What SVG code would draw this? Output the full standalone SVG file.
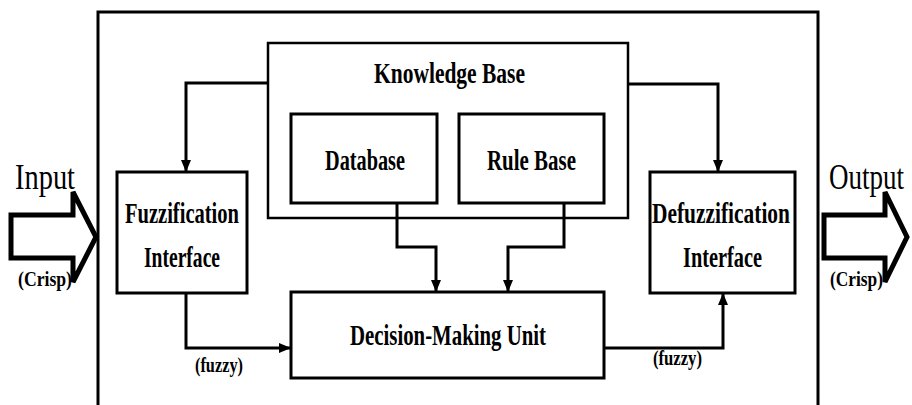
<svg xmlns="http://www.w3.org/2000/svg" width="912" height="405" viewBox="0 0 912 405">
  <style>
    .box { fill: #fff; stroke: #000; stroke-width: 3; }
    .thin { fill: #fff; stroke: #000; stroke-width: 2.5; }
    .wire { fill: none; stroke: #000; stroke-width: 3; }
    .big { fill: #fff; stroke: #000; stroke-width: 5; stroke-linejoin: miter; }
    text { font-family: "Liberation Serif", "Times New Roman", serif; fill: #000; font-weight: bold; }
    .lbl { font-size: 29px; }
    .io { font-size: 36px; font-weight: normal; }
    .sm { font-size: 21px; }
  </style>
  <defs>
    <marker id="arr" viewBox="0 0 12 12" refX="11" refY="6" markerWidth="12" markerHeight="12" markerUnits="userSpaceOnUse" orient="auto">
      <path d="M0,1 L12,6 L0,11 Z" fill="#000"/>
    </marker>
  </defs>

  <rect width="912" height="405" fill="#fff"/>

  <!-- system boundary -->
  <g id="system">
    <rect x="98" y="12" width="720" height="420" fill="none" stroke="#000" stroke-width="3"/>
  </g>

  <!-- crisp input -->
  <g id="input">
    <path class="big" d="M11,215 L73,215 L73,192 L96,237 L73,282 L73,258 L11,258 Z"/>
    <text class="io" x="15" y="189" textLength="60" lengthAdjust="spacingAndGlyphs">Input</text>
    <text class="sm" x="18" y="286" textLength="54" lengthAdjust="spacingAndGlyphs">(Crisp)</text>
  </g>

  <!-- crisp output -->
  <g id="output">
    <path class="big" d="M824,215 L885,215 L885,192 L907,237 L885,282 L885,258 L824,258 Z"/>
    <text class="io" x="904" y="189" text-anchor="end" textLength="75" lengthAdjust="spacingAndGlyphs">Output</text>
    <text class="sm" x="830" y="286" textLength="53" lengthAdjust="spacingAndGlyphs">(Crisp)</text>
  </g>

  <g id="knowledge-base">
    <rect class="thin" x="268" y="43" width="360" height="175"/>
    <text class="lbl" x="374" y="83" textLength="151" lengthAdjust="spacingAndGlyphs">Knowledge Base</text>
  </g>

  <g id="database">
    <rect class="box" x="291" y="114" width="146" height="89"/>
    <text class="lbl" x="325" y="170" textLength="80" lengthAdjust="spacingAndGlyphs">Database</text>
  </g>

  <g id="rule-base">
    <rect class="box" x="459" y="114" width="145" height="89"/>
    <text class="lbl" x="487" y="170" textLength="89" lengthAdjust="spacingAndGlyphs">Rule Base</text>
  </g>

  <g id="fuzzification">
    <rect class="box" x="117" y="172" width="130" height="121"/>
    <text class="lbl" x="125" y="223" textLength="114" lengthAdjust="spacingAndGlyphs">Fuzzification</text>
    <text class="lbl" x="144" y="267" textLength="76" lengthAdjust="spacingAndGlyphs">Interface</text>
  </g>

  <g id="defuzzification">
    <rect class="box" x="650" y="172" width="145" height="121"/>
    <text class="lbl" x="652" y="223" textLength="138" lengthAdjust="spacingAndGlyphs">Defuzzification</text>
    <text class="lbl" x="683" y="267" textLength="79" lengthAdjust="spacingAndGlyphs">Interface</text>
  </g>

  <g id="decision-unit">
    <rect class="box" x="291" y="292" width="313" height="86"/>
    <text class="lbl" x="350" y="345" textLength="196" lengthAdjust="spacingAndGlyphs">Decision-Making Unit</text>
  </g>

  <g id="connectors">
    <path class="wire" d="M268,83 L186,83 L186,171" marker-end="url(#arr)"/>
    <path class="wire" d="M628,84 L718,84 L718,171" marker-end="url(#arr)"/>
    <path class="wire" d="M397,203 L397,247 L436,247 L436,291" marker-end="url(#arr)"/>
    <path class="wire" d="M564,203 L564,247 L508,247 L508,291" marker-end="url(#arr)"/>
    <path class="wire" d="M186,293 L186,348 L290,348" marker-end="url(#arr)"/>
    <path class="wire" d="M604,348 L723,348 L723,294" marker-end="url(#arr)"/>
    <text class="sm" x="195" y="372" textLength="48" lengthAdjust="spacingAndGlyphs">(fuzzy)</text>
    <text class="sm" x="653" y="365" textLength="49" lengthAdjust="spacingAndGlyphs">(fuzzy)</text>
  </g>
</svg>
